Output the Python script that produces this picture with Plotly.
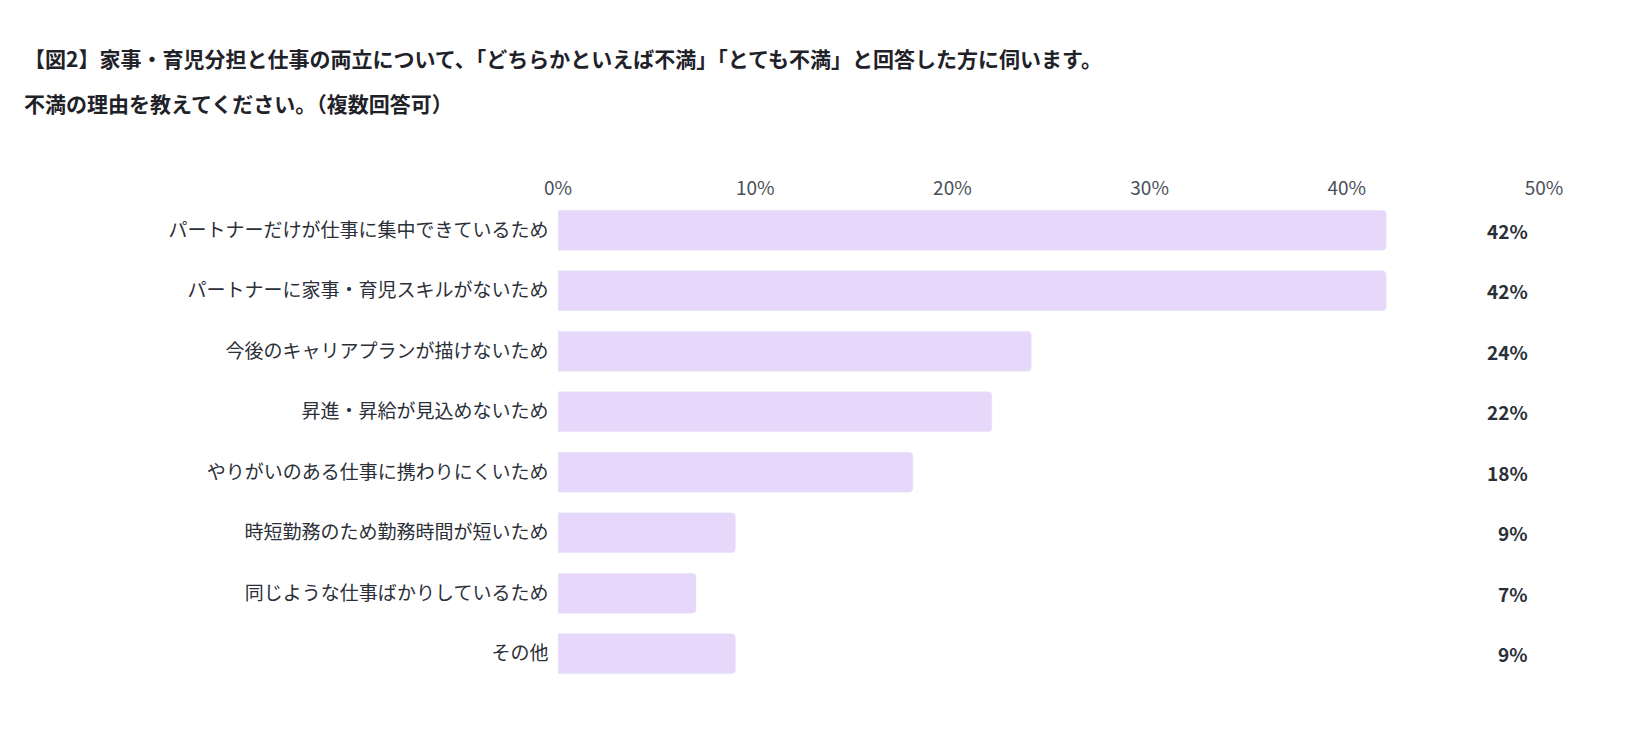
import plotly.graph_objects as go

categories = ["パートナーだけが仕事に集中できているため","パートナーに家事・育児スキルがないため","今後のキャリアプランが描けないため","昇進・昇給が見込めないため","やりがいのある仕事に携わりにくいため","時短勤務のため勤務時間が短いため","同じような仕事ばかりしているため","その他"]
values = [42, 42, 24, 22, 18, 9, 7, 9]
ticks = [0, 10, 20, 30, 40, 50]
tick_labels = ["0%", "10%", "20%", "30%", "40%", "50%"]

font = "Noto Sans CJK JP"
fig = go.Figure(go.Bar(y=categories, x=values, orientation="h",
                       marker=dict(color="#e6d7fb", cornerradius=4), hoverinfo="skip"))
fig.update_layout(
    width=1634, height=752, plot_bgcolor="white", paper_bgcolor="white",
    margin=dict(l=550, r=98, t=192, b=76), bargap=0.34, showlegend=False,
    font=dict(family=font, size=19, color="#333"),
    xaxis=dict(range=[0, 50], side="top", tickvals=ticks, ticktext=tick_labels,
               showgrid=False, zeroline=False, showline=False, ticks="",
               tickfont=dict(size=19, color="#4a4f5a")),
    yaxis=dict(autorange="reversed", showgrid=False, ticks="", ticklen=0,
               tickfont=dict(size=19, color="#2b2f38"), ticksuffix="  "),
)
annotations = []
for t, yy in [("<b>【図2】家事・育児分担と仕事の両立について、「どちらかといえば不満」「とても不満」と回答した方に伺います。</b>", 50),
              ("<b>不満の理由を教えてください。（複数回答可）</b>", 95)]:
    annotations.append(dict(text=t, xref="paper", yref="paper",
                            x=(14-550)/(1634-550-98), y=1+(192-yy)/(752-192-76),
                            xanchor="left", yanchor="middle", showarrow=False,
                            font=dict(size=21, color="#1f2229", family=font)))
for c, v in zip(categories, values):
    annotations.append(dict(text=f"<b>{v}%</b>", x=1.0, xref="paper", y=c, yref="y",
                            xanchor="right", xshift=-14, showarrow=False,
                            font=dict(size=19, color="#2b2f38", family=font)))
fig.update_layout(annotations=annotations)
fig.write_html("out.html")
